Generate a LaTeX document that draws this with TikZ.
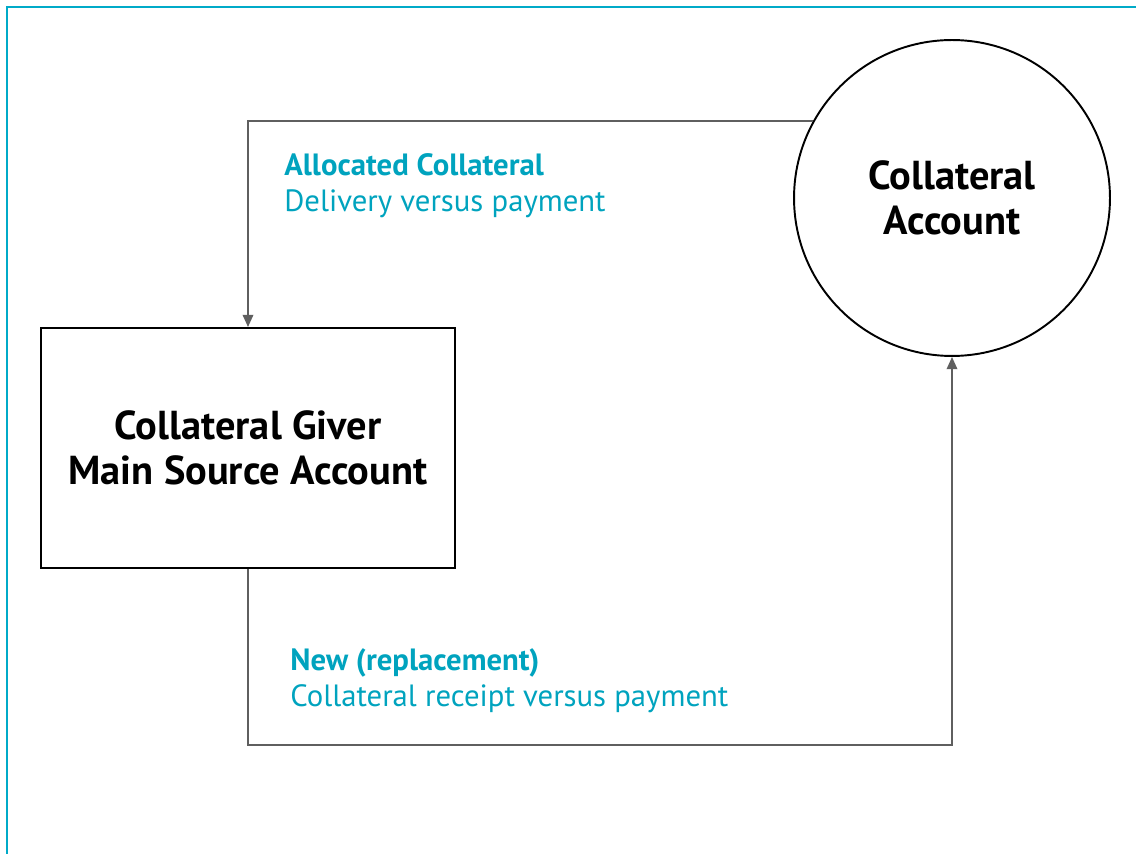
\documentclass[tikz,border=0pt]{standalone}
\usepackage{fontspec}
\setmainfont{PT Sans}
\usepackage{tikz}
\usetikzlibrary{arrows.meta}

\definecolor{tealline}{RGB}{0,170,200}
\definecolor{tealtext}{RGB}{0,163,190}
\definecolor{flowgray}{RGB}{95,95,95}

\tikzset{
    acctbox/.style = {draw=black, line width=1.1pt, fill=white, align=center,
        font=\fontsize{23}{25.5}\selectfont\bfseries},
    flowline/.style = {draw=flowgray, line width=1.1pt, -{Triangle[length=7pt,width=6pt]}},
    flowlabel/.style = {align=left, text=tealtext, inner sep=0, anchor=north west,
        font=\fontsize{17.5}{20.4}\selectfont}
}

\begin{document}
\begin{tikzpicture}[x = 0.02cm, y = 0.02cm]
    \useasboundingbox (0,0) rectangle (1136,-854);
    % outer frame, only top and left
    \draw [tealline, line width=1.2pt] (7,-854) -- (7,-7) -- (1136,-7);

    \node (giver)[acctbox, rectangle, minimum width=8.28cm, minimum height=4.8cm] at (248,-448)
        {Collateral Giver\\Main Source Account};
    \node (collacc)[acctbox, circle, minimum size=6.32cm] at (952,-198)
        {Collateral\\Account};

    \coordinate (botturn) at (248,-745);

    \draw [flowline] (collacc.151.25) -| (giver.north);
    \draw [flowline] (giver.south) -- (botturn) -| (collacc.south);

    \node (alloclbl)[flowlabel] at (284,-153) {\textbf{Allocated Collateral}\\Delivery versus payment};
    \node (newlbl)[flowlabel] at (290,-648) {\textbf{New (replacement)}\\Collateral receipt versus payment};
\end{tikzpicture}
\end{document}
